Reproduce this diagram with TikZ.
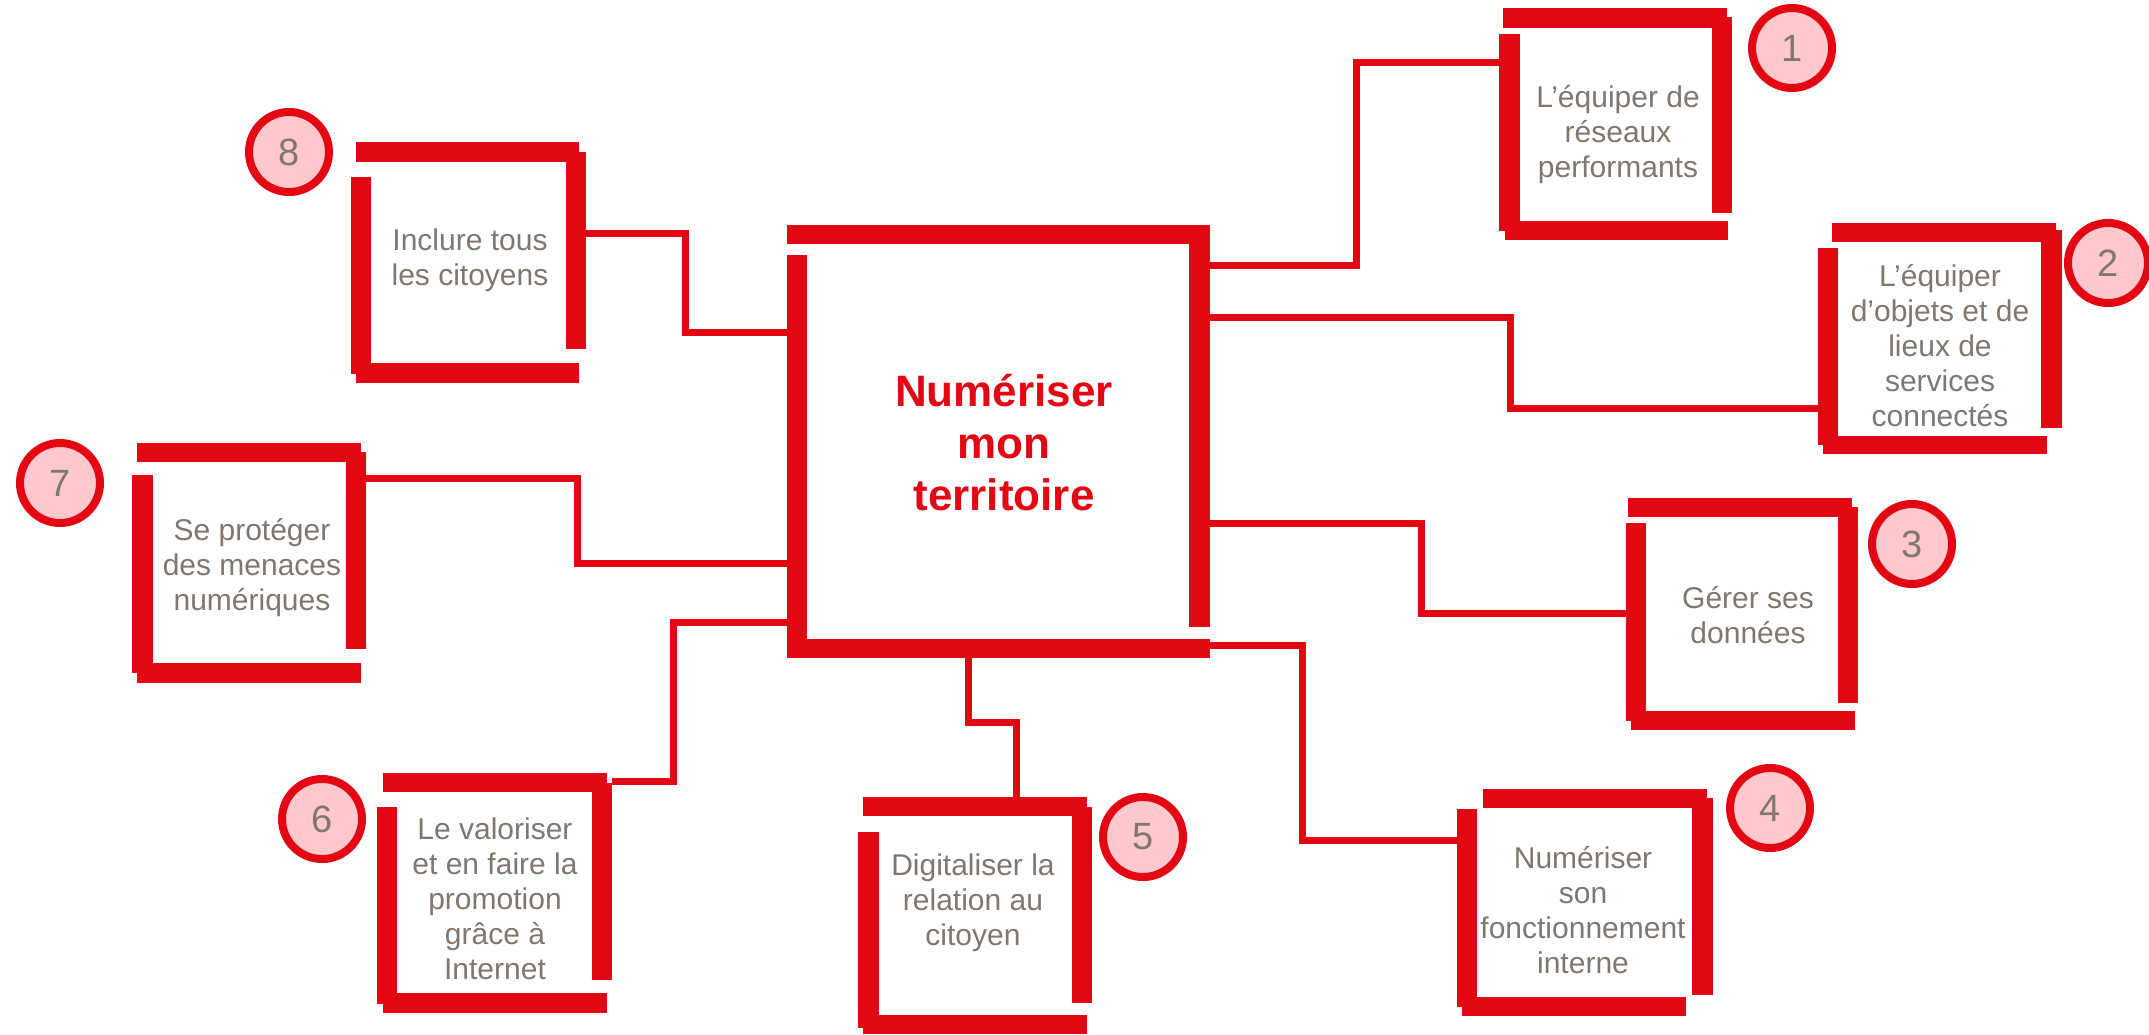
\documentclass[tikz,border=0pt]{standalone}
\usepackage{fontspec}
\setmainfont{Liberation Sans}
\definecolor{myred}{RGB}{227,6,19}
\definecolor{mypink}{RGB}{255,200,205}
\definecolor{mygrey}{RGB}{128,119,112}
\begin{document}
\begin{tikzpicture}[x=1pt,y=-1pt,
  bar/.style={fill=myred,draw=none},
  conn/.style={draw=myred,line width=7pt,line join=miter},
  lbl/.style={text=mygrey,font=\fontsize{30}{35}\selectfont,align=center,inner sep=0pt},
  badge/.style={circle,draw=myred,fill=mypink,line width=8pt,minimum size=80pt,inner sep=0pt,text=mygrey,font=\fontsize{38}{38}\selectfont},
  ttl/.style={text=myred,font=\bfseries\fontsize{44}{52}\selectfont,align=center,inner sep=0pt}]
\fill[white] (0,0) rectangle (2149,1034);
\useasboundingbox (0,0) rectangle (2149,1034);

% central box
\fill[bar] (787,225) rectangle (1210,244);
\fill[bar] (1189,225) rectangle (1210,627);
\fill[bar] (787,255) rectangle (807,650);
\fill[bar] (787,639) rectangle (1210,658);
\node[ttl] (tc) at (1004,443) {Numériser\\mon\\territoire};

% box 1
\fill[bar] (1503,8) rectangle (1727,28);
\fill[bar] (1712,17) rectangle (1732,213);
\fill[bar] (1499,34) rectangle (1520,231);
\fill[bar] (1505,221) rectangle (1728,240);
\node[lbl] (t1) at (1618,135) {L’équiper de\\réseaux\\performants};
\node[badge] (n1) at (1792,48) {1};

% box 2
\fill[bar] (1832,223) rectangle (2056,242);
\fill[bar] (2041,230) rectangle (2062,428);
\fill[bar] (1818,248) rectangle (1838,445);
\fill[bar] (1823,436) rectangle (2047,454);
\node[lbl] (t2) at (1940,346) {L’équiper\\d’objets et de\\lieux de\\services\\connectés};
\node[badge] (n2) at (2108,263) {2};

% box 3
\fill[bar] (1628,498) rectangle (1852,517);
\fill[bar] (1838,507) rectangle (1858,703);
\fill[bar] (1626,523) rectangle (1646,721);
\fill[bar] (1631,711) rectangle (1855,730);
\node[lbl] (t3) at (1748,615) {Gérer ses\\données};
\node[badge] (n3) at (1912,544) {3};

% box 4
\fill[bar] (1483,789) rectangle (1707,808);
\fill[bar] (1692,798) rectangle (1713,995);
\fill[bar] (1457,809) rectangle (1477,1007);
\fill[bar] (1462,997) rectangle (1686,1016);
\node[lbl] (t4) at (1583,910) {Numériser\\son\\fonctionnement\\interne};
\node[badge] (n4) at (1770,808) {4};

% box 5
\fill[bar] (863,797) rectangle (1087,816);
\fill[bar] (1072,807) rectangle (1092,1003);
\fill[bar] (858,832) rectangle (879,1028);
\fill[bar] (863,1015) rectangle (1087,1034);
\node[lbl] (t5) at (973,903) {Digitaliser la\\relation au\\citoyen};
\node[badge] (n5) at (1143,837) {5};

% box 6
\fill[bar] (383,773) rectangle (607,792);
\fill[bar] (592,783) rectangle (612,980);
\fill[bar] (377,807) rectangle (397,1004);
\fill[bar] (383,993) rectangle (607,1013);
\node[lbl] (t6) at (495,899) {Le valoriser\\et en faire la\\promotion\\grâce à\\Internet};
\node[badge] (n6) at (322,819) {6};

% box 7
\fill[bar] (137,443) rectangle (361,462);
\fill[bar] (346,452) rectangle (366,649);
\fill[bar] (132,475) rectangle (153,673);
\fill[bar] (137,663) rectangle (361,683);
\node[lbl] (t7) at (252,568) {Se protéger\\des menaces\\numériques};
\node[badge] (n7) at (60,483) {7};

% box 8
\fill[bar] (356,142) rectangle (579,162);
\fill[bar] (566,152) rectangle (586,349);
\fill[bar] (351,177) rectangle (371,374);
\fill[bar] (356,363) rectangle (579,383);
\node[lbl] (t8) at (470,260) {Inclure tous\\les citoyens};
\node[badge] (n8) at (289,152) {8};

% connector end points
\coordinate (c1) at (1210,265); \coordinate (e1) at (1499,62);
\coordinate (c2) at (1210,317); \coordinate (e2) at (1818,408);
\coordinate (c3) at (1210,523); \coordinate (e3) at (1626,613);
\coordinate (c4) at (1210,645); \coordinate (e4) at (1457,840);
\coordinate (c5) at (968,658);  \coordinate (e5) at (1016,797);
\coordinate (c6) at (787,622);  \coordinate (e6) at (612,781);
\coordinate (c7) at (787,563);  \coordinate (e7) at (366,478);
\coordinate (c8) at (787,332);  \coordinate (e8) at (586,233);

\draw[conn] (c1) -- ++(146,0) |- (e1);
\draw[conn] (c2) -- ++(300,0) |- (e2);
\draw[conn] (c3) -- ++(211,0) |- (e3);
\draw[conn] (c4) -- ++(92,0) |- (e4);
\draw[conn] (c5) -- ++(0,64) -| (e5);
\draw[conn] (c6) -- ++(-114,0) |- (e6);
\draw[conn] (c7) -- ++(-210,0) |- (e7);
\draw[conn] (c8) -- ++(-102,0) |- (e8);
\end{tikzpicture}
\end{document}
